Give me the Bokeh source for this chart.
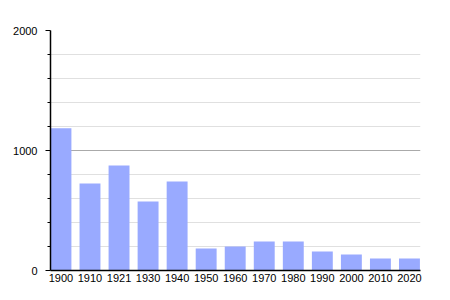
from bokeh.plotting import figure
from bokeh.models import Range1d, FixedTicker, ColumnDataSource
from bokeh.embed import file_html
from bokeh.resources import INLINE

years = ["1900", "1910", "1921", "1930", "1940", "1950", "1960", "1970", "1980", "1990", "2000", "2010", "2020"]
population = [1185, 725, 875, 575, 742, 183, 200, 242, 242, 158, 133, 100, 100]

idx = list(range(len(years)))
src = ColumnDataSource(dict(x=idx, top=population, year=years))

p = figure(width=450, height=300, output_backend="svg", toolbar_location=None,
           x_range=Range1d(-0.36, len(years) - 1 + 0.38), y_range=Range1d(0, 2000),
           min_border_left=50, min_border_right=30, min_border_top=30, min_border_bottom=30)
p.outline_line_color = None
p.background_fill_color = "white"
p.border_fill_color = "white"

p.vbar(x="x", top="top", width=0.72, source=src, fill_color="#99aaff", line_color=None)

p.xaxis.ticker = FixedTicker(ticks=idx)
p.xaxis.major_label_overrides = {i: y for i, y in zip(idx, years)}
p.xaxis.major_tick_line_color = None
p.xaxis.minor_tick_line_color = None
p.xaxis.major_tick_in = 0
p.xaxis.major_tick_out = 0
p.xaxis.minor_tick_in = 0
p.xaxis.minor_tick_out = 0
p.xaxis.axis_line_color = "black"
p.xaxis.axis_line_width = 1.5
p.xaxis.major_label_standoff = 3
p.xgrid.grid_line_color = None

p.yaxis.ticker = FixedTicker(ticks=[0, 1000, 2000], minor_ticks=[200, 400, 600, 800, 1200, 1400, 1600, 1800])
p.yaxis.axis_line_color = "black"
p.yaxis.axis_line_width = 1.5
p.yaxis.major_tick_in = 0
p.yaxis.major_tick_out = 5
p.yaxis.minor_tick_in = 0
p.yaxis.minor_tick_out = 3
p.yaxis.major_tick_line_color = "black"
p.yaxis.minor_tick_line_color = "black"
p.yaxis.major_label_standoff = 8

for ax in (p.xaxis, p.yaxis):
    ax.major_label_text_font = "Liberation Sans"
    ax.major_label_text_font_size = "11px"
    ax.major_label_text_color = "black"

p.ygrid.grid_line_color = "#aaaaaa"
p.ygrid.minor_grid_line_color = "#e0e0e0"
p.ygrid.level = "underlay"

open("out.html", "w").write(file_html(p, INLINE))
